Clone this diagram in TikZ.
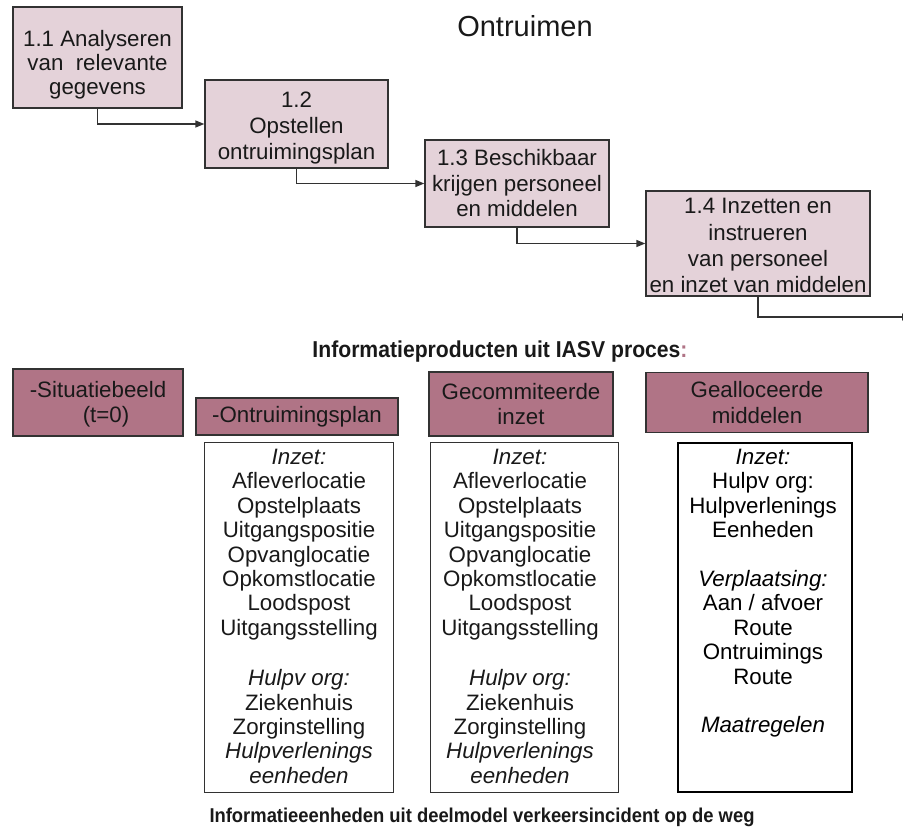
\documentclass[tikz,border=0pt]{standalone}
\usepackage{fontspec}
\setmainfont{Liberation Sans}
\newfontfamily\labelfont[FakeStretch=0.92]{Liberation Sans Bold}
\usetikzlibrary{arrows.meta}
\definecolor{stepfill}{RGB}{228,210,217}
\definecolor{prodfill}{RGB}{176,116,134}
\definecolor{edge}{RGB}{50,50,50}
\definecolor{ink}{RGB}{25,25,25}

\begin{document}
\begin{tikzpicture}[x=1pt,y=-1pt,
  stepbox/.style={draw=edge, line width=1.3pt, fill=stepfill, align=center,
    inner sep=0pt, text=ink, font=\fontsize{22.3}{25.5}\selectfont},
  prodbox/.style={draw=edge, line width=1.3pt, fill=prodfill, align=center,
    inner sep=0pt, text=ink, font=\fontsize{22.3}{25.5}\selectfont},
  listbox/.style={draw=edge, line width=1pt, fill=white, inner sep=0pt},
  listtext/.style={align=center, inner sep=0pt, anchor=north, text=ink,
    font=\fontsize{22.3}{24.4}\selectfont},
  heading/.style={inner sep=0pt, text=ink},
  flow/.style={draw=edge, line width=1.3pt, -{Triangle[length=9pt,width=7pt]}},
  ]
\useasboundingbox (0,0) rectangle (903,832);

% process steps
\node[heading, font=\fontsize{29}{30}\selectfont] (title) at (525,26) {Ontruimen};

\node[stepbox, minimum width=169pt, minimum height=101pt, font=\fontsize{22.3}{24}\selectfont]
  (s1) at (97.5,57.5) {\rule{0pt}{30pt}1.1 Analyseren\\van\ \ relevante\\gegevens};
\node[stepbox, minimum width=183pt, minimum height=88pt, font=\fontsize{22.3}{26}\selectfont]
  (s2) at (296.5,124) {\rule{0pt}{24pt}1.2\\Opstellen\\ontruimingsplan};
\node[stepbox, minimum width=184pt, minimum height=87pt]
  (s3) at (517,183.5) {1.3 Beschikbaar\\krijgen personeel\\en middelen};
\node[stepbox, minimum width=224pt, minimum height=105pt, font=\fontsize{22.3}{26.3}\selectfont]
  (s4) at (758,243.5) {\rule{0pt}{20pt}1.4 Inzetten en\\instrueren\\van personeel\\en inzet van middelen};
\coordinate (next) at (911,317);

\draw[flow] (s1.south) |- (s2.west);
\draw[flow] (s2.south) |- (s3.west);
\draw[flow] (s3.south) |- (s4.west);
\draw[flow] (s4.south) |- (next);

% information products
\node[heading, font=\labelfont\fontsize{23}{24}\selectfont] (prodlabel) at (500,352)
  {Informatieproducten uit IASV proces{\color{prodfill}:}};

\node[prodbox, minimum width=170pt, minimum height=67pt, align=left]
  (p1) at (98,402.5) {\rule{0pt}{20pt}-Situatiebeeld\\\hspace*{53pt}(t=0)};
\node[prodbox, minimum width=202pt, minimum height=37pt]
  (p2) at (297,416.5) {-Ontruimingsplan};
\node[prodbox, minimum width=184pt, minimum height=64pt]
  (p3) at (521,404) {Gecommiteerde\\inzet};
\node[prodbox, minimum width=222pt, minimum height=60pt]
  (p4) at (757,402.5) {Gealloceerde\\middelen};

% information units
\node[listbox, minimum width=189pt, minimum height=350pt] (l1) at (298.5,617.5) {};
\node[listbox, minimum width=188pt, minimum height=350pt] (l2) at (524,617.5) {};
\node[listbox, draw=black, line width=2pt, minimum width=174pt, minimum height=349pt]
  (l3) at (765,617.5) {};

\node[listtext] (t1) at (299,449) {\textit{Inzet:}\\Afleverlocatie\\Opstelplaats\\
  Uitgangspositie\\Opvanglocatie\\Opkomstlocatie\\Loodspost\\Uitgangsstelling\\[26pt]
  \textit{Hulpv org:}\\Ziekenhuis\\Zorginstelling\\\textit{Hulpverlenings}\\\textit{eenheden}};
\node[listtext] (t2) at (520,449) {\textit{Inzet:}\\Afleverlocatie\\Opstelplaats\\
  Uitgangspositie\\Opvanglocatie\\Opkomstlocatie\\Loodspost\\Uitgangsstelling\\[26pt]
  \textit{Hulpv org:}\\Ziekenhuis\\Zorginstelling\\\textit{Hulpverlenings}\\\textit{eenheden}};
\node[listtext, text=black] (t3) at (763,449) {\textit{Inzet:}\\Hulpv org:\\Hulpverlenings\\
  Eenheden\\[24.4pt]\textit{Verplaatsing:}\\Aan / afvoer\\Route\\Ontruimings\\Route\\[24.4pt]
  \textit{Maatregelen}};

\node[heading, font=\labelfont\fontsize{20}{21}\selectfont] (unitlabel) at (482,817)
  {Informatieeenheden uit deelmodel verkeersincident op de weg};
\end{tikzpicture}
\end{document}
